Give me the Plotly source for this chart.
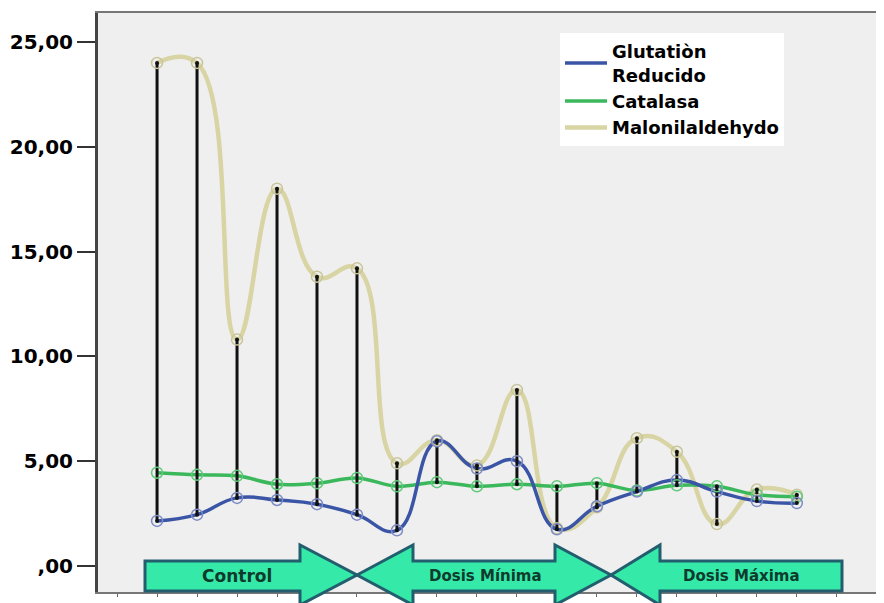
import plotly.graph_objects as go

# ---- data ----
muestras = list(range(1, 18))
glutation = [2.15, 2.45, 3.25, 3.15, 2.95, 2.45, 1.7, 5.95, 4.65, 5.0, 1.75, 2.85, 3.55, 4.1, 3.55, 3.1, 3.0]
catalasa = [4.45, 4.35, 4.3, 3.9, 3.95, 4.2, 3.8, 4.0, 3.8, 3.9, 3.8, 3.95, 3.6, 3.85, 3.8, 3.4, 3.3]
malonil = [24.0, 24.0, 10.8, 18.0, 13.8, 14.2, 4.9, 6.0, 4.8, 8.4, 1.8, 2.8, 6.1, 5.45, 2.0, 3.65, 3.4]
series_names = ["Glutatiòn<br>Reducido", "Catalasa", "Malonilaldehydo"]
y_ticks = [0, 5, 10, 15, 20, 25]
y_ticktext = [",00", "5,00", "10,00", "15,00", "20,00", "25,00"]
grupos = ["Control", "Dosis Mínima", "Dosis Máxima"]

OFF = 8  # page body margin
W, H = 884 - OFF, 603 - OFF
L, R, T, B = 98, 884, 13, 592   # plot area in reference pixels

def px(xp):
    return (xp - L) / (R - L)

def py(yp):
    return (B - yp) / (B - T)

fig = go.Figure()

# lines
fig.add_trace(go.Scatter(x=muestras, y=malonil, mode="lines", name=series_names[2],
                         line=dict(color="#d8d4a4", width=4.5, shape="spline", smoothing=1.3),
                         legendrank=3))
fig.add_trace(go.Scatter(x=muestras, y=catalasa, mode="lines", name=series_names[1],
                         line=dict(color="#3cb85c", width=3.5, shape="spline", smoothing=1.0),
                         legendrank=2))
fig.add_trace(go.Scatter(x=muestras, y=glutation, mode="lines", name=series_names[0],
                         line=dict(color="#3b55a6", width=3.5, shape="spline", smoothing=1.3),
                         legendrank=1))

# high-low stems
sx, sy, dx, dy = [], [], [], []
for i, xv in enumerate(muestras):
    vals = [glutation[i], catalasa[i], malonil[i]]
    lo, hi = min(vals), max(vals)
    sx += [xv, xv, None]
    sy += [lo, hi, None]
    dx += [xv, xv]
    dy += [lo, hi]
fig.add_trace(go.Scatter(x=sx, y=sy, mode="lines", line=dict(color="#111111", width=3),
                         showlegend=False, hoverinfo="skip"))

# hollow markers
fig.add_trace(go.Scatter(x=muestras, y=malonil, mode="markers", showlegend=False,
                         marker=dict(symbol="circle-open", size=11, color="#c9c59a", line=dict(width=1.5))))
fig.add_trace(go.Scatter(x=muestras, y=catalasa, mode="markers", showlegend=False,
                         marker=dict(symbol="circle-open", size=11, color="#5fc97a", line=dict(width=1.5))))
fig.add_trace(go.Scatter(x=muestras, y=glutation, mode="markers", showlegend=False,
                         marker=dict(symbol="circle-open", size=11, color="#7d8cc4", line=dict(width=1.5))))
fig.add_trace(go.Scatter(x=dx, y=dy, mode="markers", showlegend=False,
                         marker=dict(size=4, color="#111111")))

# group arrows (decoration)
def path(points):
    return "M " + " L ".join(f"{px(a):.5f},{py(b):.5f}" for a, b in points) + " Z"

arrows = [
    [(145, 561), (300, 561), (300, 545), (357, 575), (300, 605), (300, 591), (145, 591)],
    [(357, 575), (413, 545), (413, 561), (555, 561), (555, 545), (611, 575), (555, 605), (555, 591), (413, 591), (413, 605)],
    [(611, 575), (660, 545), (660, 561), (842, 561), (842, 591), (660, 591), (660, 605)],
]
shapes = []
for pts in arrows:
    shapes.append(dict(type="path", xref="paper", yref="paper", path=path(pts),
                       fillcolor="#35e9a9", line=dict(color="#225e6e", width=3), layer="above"))

annotations = []
for label, cx, fs in zip(grupos, [237, 485, 741], [17, 15, 15]):
    annotations.append(dict(x=px(cx), y=py(576), xref="paper", yref="paper", text=label,
                            xanchor="center", yanchor="middle", showarrow=False,
                            font=dict(family="DejaVu Sans", size=fs, color="#0e3b2c", weight="bold")))

fig.update_layout(
    width=W, height=H,
    margin=dict(l=L - OFF, r=0, t=T - OFF, b=H - (B - OFF)),
    paper_bgcolor="white", plot_bgcolor="#efefef",
    shapes=shapes, annotations=annotations,
    showlegend=True,
    legend=dict(x=px(560), y=py(33), xanchor="left", yanchor="top",
                bgcolor="white", borderwidth=0, itemwidth=42,
                font=dict(family="DejaVu Sans", size=18, color="black", weight="bold"),
                traceorder="normal", tracegroupgap=0),
    xaxis=dict(range=[-0.477, 19.18], showgrid=False, zeroline=False, showticklabels=False,
               tickvals=list(range(0, 20)), ticks="outside", ticklen=3, tickcolor="#666",
               showline=True, linecolor="#777", linewidth=2, mirror=True),
    yaxis=dict(range=[-1.24, 26.38], showgrid=False, zeroline=False,
               tickvals=y_ticks, ticktext=y_ticktext, ticks="outside", ticklen=18,
               tickcolor="#333", tickwidth=2, showline=True, linecolor="#444", linewidth=3,
               tickfont=dict(family="DejaVu Sans", size=20, color="black", weight="bold")),
)

fig.write_html("out.html")
